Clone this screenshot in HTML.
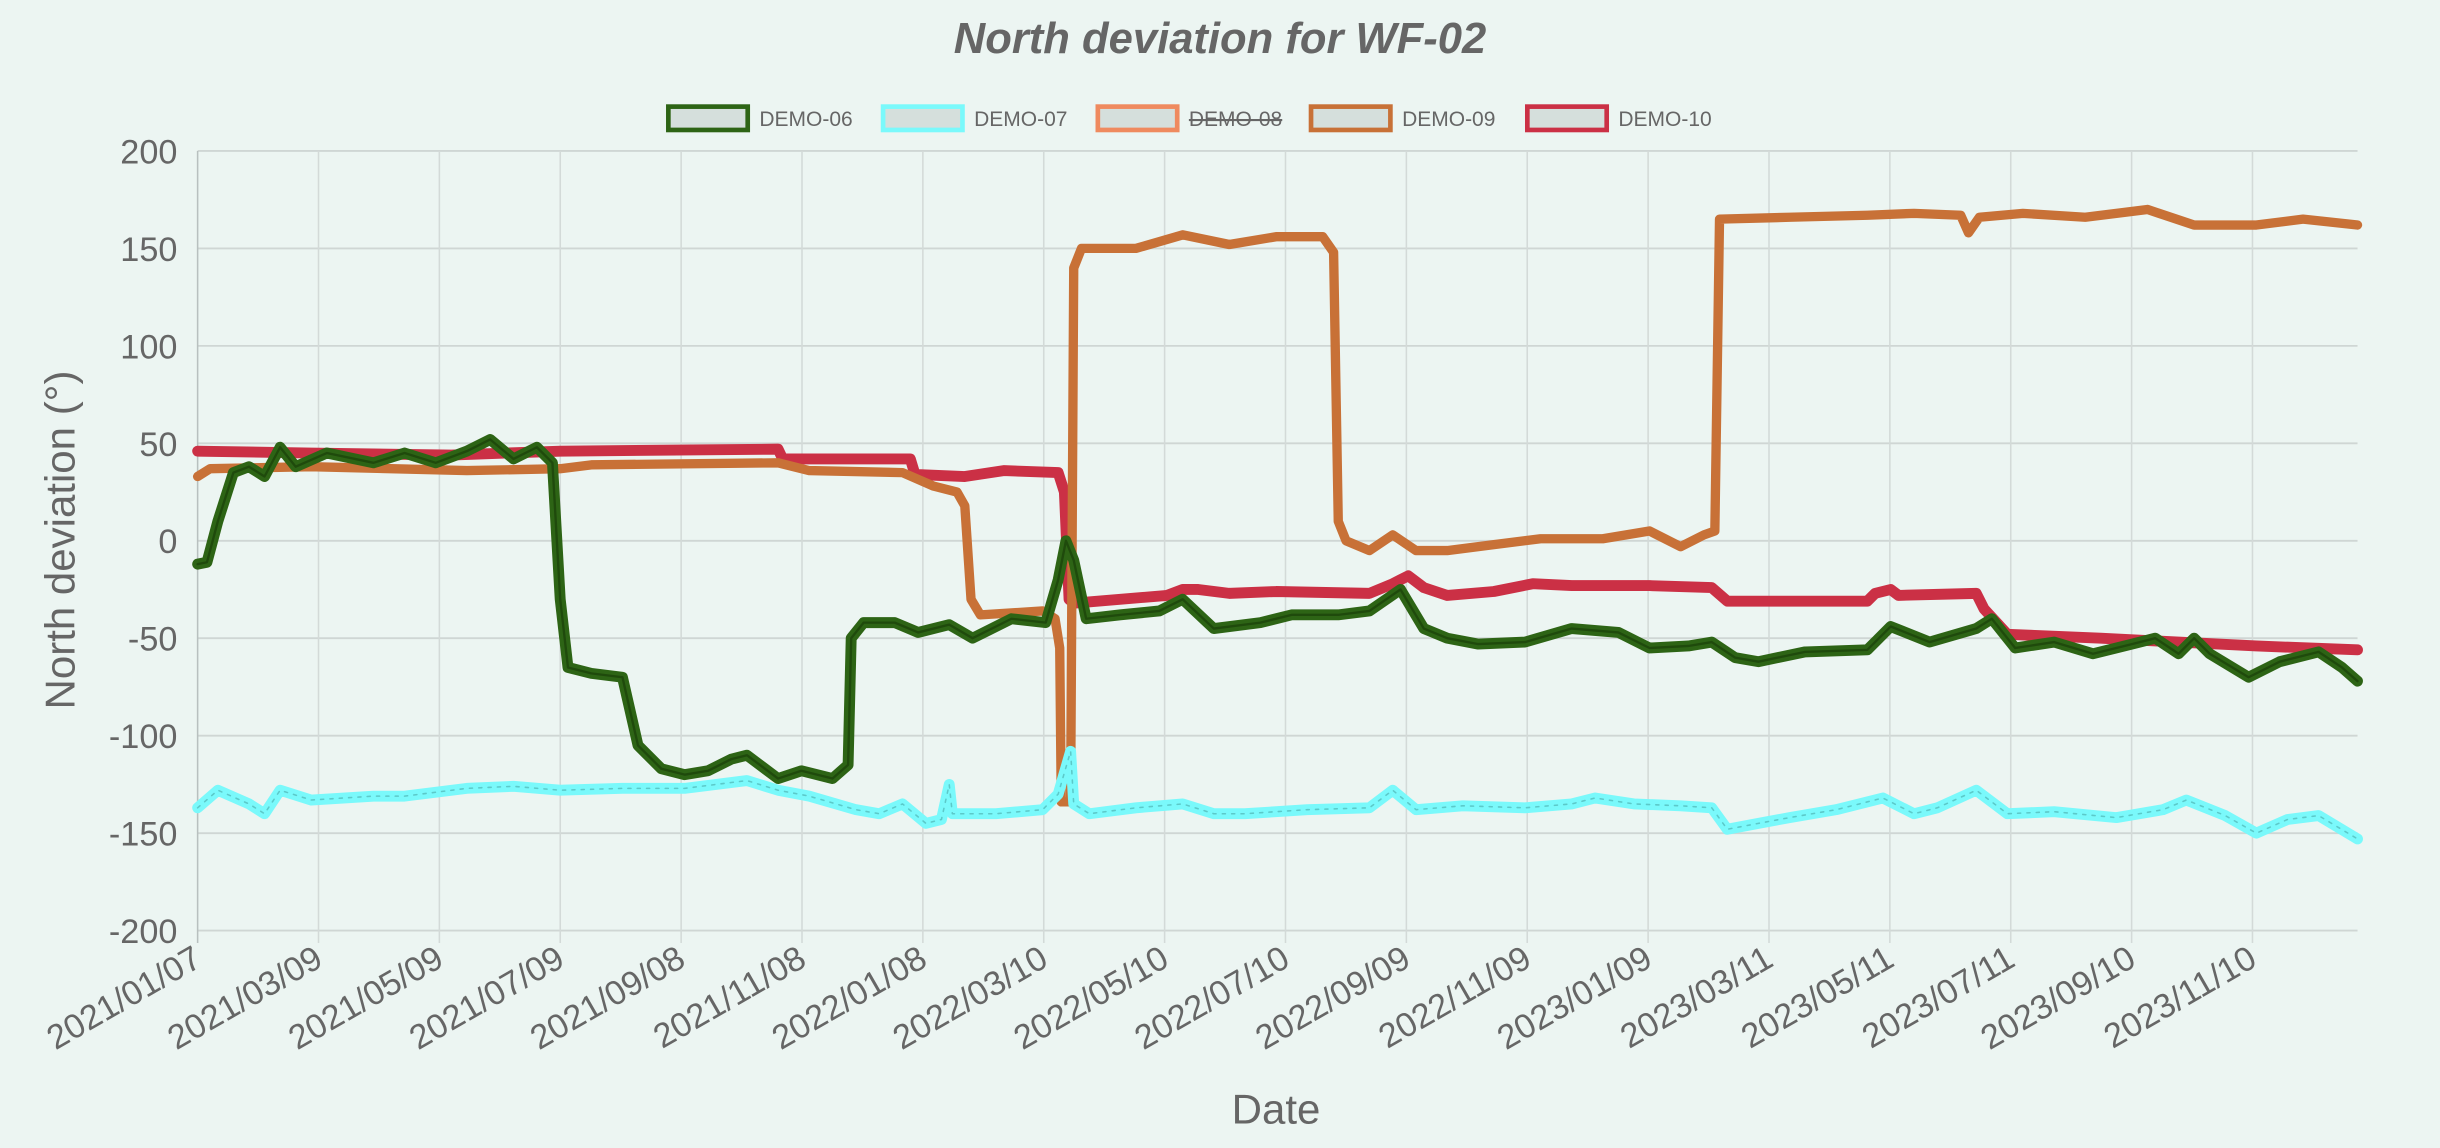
<!DOCTYPE html>
<html><head><meta charset="utf-8"><style>
html,body{margin:0;padding:0;background:#ecf5f2;}
svg{display:block;font-family:"Liberation Sans",sans-serif;}
</style></head><body>
<svg id="s" width="2440" height="1148" viewBox="0 0 1568 737.7" xmlns="http://www.w3.org/2000/svg">
<rect width="1568" height="737.7" fill="#ecf5f2"/>
<text x="784" y="34" text-anchor="middle" font-size="28" font-weight="bold" font-style="italic" fill="#666">North deviation for WF-02</text>
<g id="grid"></g>
<g id="leg" font-size="13.5" fill="#666"></g>
<g id="data" fill="none" stroke-linejoin="round" stroke-linecap="round"></g>
<text transform="translate(48,347) rotate(-90)" text-anchor="middle" font-size="27" fill="#666">North deviation (°)</text>
<text x="820" y="722" text-anchor="middle" font-size="27" fill="#666">Date</text>
</svg>
<script>
var NS="http://www.w3.org/2000/svg";
function el(p,t,a,txt){var e=document.createElementNS(NS,t);for(var k in a)e.setAttribute(k,a[k]);if(txt!==undefined)e.textContent=txt;p.appendChild(e);return e;}
var L=127,R=1515;function Y(v){return 347.5-v*1.2525;}
var g=document.getElementById('grid');
for(var v=-200;v<=200;v+=50){el(g,'line',{x1:L,x2:R,y1:Y(v),y2:Y(v),stroke:'#cfd6d4','stroke-width':1.2});
el(g,'text',{x:114,y:Y(v)+8,'text-anchor':'end','font-size':22,fill:'#666'},String(v));}
var ticks=["2021/01/07","2021/03/09","2021/05/09","2021/07/09","2021/09/08","2021/11/08","2022/01/08","2022/03/10","2022/05/10","2022/07/10","2022/09/09","2022/11/09","2023/01/09","2023/03/11","2023/05/11","2023/07/11","2023/09/10","2023/11/10"];
var sp=(1447.5-127)/17;
for(var i=0;i<ticks.length;i++){var x=127+i*sp;
el(g,'line',{x1:x,x2:x,y1:97,y2:606,stroke:i==0?'#b8c0bf':'#d3dad8','stroke-width':1});
el(g,'text',{transform:'translate('+(x+4)+',620) rotate(-30)','text-anchor':'end','font-size':22,fill:'#666'},ticks[i]);}
var lg=document.getElementById('leg');
var legs=[["DEMO-06","#2d6415",428],["DEMO-07","#7af9fb",566],["DEMO-08","#ef8a5f",704],["DEMO-09","#c87137",841],["DEMO-10","#cb3045",980]];
legs.forEach(function(d){el(lg,'rect',{x:d[2]+1.5,y:68.5,width:51,height:15,fill:'#d5dfdc',stroke:d[1],'stroke-width':3});
var t=el(lg,'text',{x:d[2]+60,y:81},d[0]);if(d[0]=="DEMO-08")t.setAttribute('text-decoration','line-through');});
var S={
red:["#cb3045",[[127,46],[200,45],[290,44],[360,46],[500,47],[503,42],[585,42],[588,34],[620,33],[645,36],[680,35],[684,25],[687,-30],[690,-32],[750,-28],[760,-25],[770,-25],[790,-27],[820,-26],[880,-27],[895,-22],[905,-18],[915,-24],[930,-28],[960,-26],[985,-22],[1010,-23],[1060,-23],[1100,-24],[1110,-31],[1200,-31],[1205,-27],[1215,-25],[1220,-28],[1270,-27],[1275,-35],[1290,-48],[1350,-50],[1400,-52],[1450,-54],[1515,-56]]],
orange:["#c87137",[[127,33],[135,37],[200,38],[300,36],[360,37],[380,39],[500,40],[520,36],[580,35],[600,28],[615,25],[620,18],[624,-30],[630,-38],[670,-36],[678,-40],[681,-55],[682,-134],[688,-134],[690,140],[695,150],[730,150],[760,157],[790,152],[820,156],[850,156],[857,148],[860,10],[865,0],[880,-5],[895,3],[910,-5],[930,-5],[960,-2],[990,1],[1030,1],[1060,5],[1080,-3],[1095,3],[1102,5],[1105,165],[1150,166],[1200,167],[1230,168],[1260,167],[1265,158],[1272,166],[1300,168],[1340,166],[1380,170],[1410,162],[1450,162],[1480,165],[1515,162]]],
cyan:["#7af9fb",[[127,-137],[140,-128],[160,-135],[170,-140],[180,-128],[200,-133],[240,-131],[260,-131],[300,-127],[330,-126],[360,-128],[400,-127],[440,-127],[480,-123],[500,-128],[520,-131],[550,-138],[565,-140],[580,-135],[595,-145],[605,-143],[610,-125],[612,-140],[640,-140],[670,-138],[680,-130],[688,-108],[690,-135],[700,-140],[730,-137],[760,-135],[780,-140],[800,-140],[840,-138],[880,-137],[895,-128],[910,-138],[940,-136],[980,-137],[1010,-135],[1025,-132],[1050,-135],[1080,-136],[1100,-137],[1110,-148],[1130,-145],[1150,-142],[1180,-138],[1210,-132],[1230,-140],[1245,-137],[1270,-128],[1290,-140],[1320,-139],[1360,-142],[1390,-138],[1405,-133],[1430,-141],[1450,-150],[1470,-143],[1490,-141],[1515,-153]]],
green:["#2d6415",[[127,-12],[133,-11],[140,10],[150,35],[160,38],[170,33],[180,48],[190,38],[210,45],[240,40],[260,45],[280,40],[300,46],[315,52],[330,42],[345,48],[355,40],[360,-30],[365,-65],[380,-68],[400,-70],[410,-105],[425,-117],[440,-120],[455,-118],[470,-112],[480,-110],[500,-122],[515,-118],[535,-122],[545,-115],[547,-50],[555,-42],[575,-42],[590,-47],[610,-43],[625,-50],[650,-40],[672,-42],[680,-20],[685,0],[690,-10],[698,-40],[720,-38],[745,-36],[760,-30],[780,-45],[810,-42],[830,-38],[860,-38],[880,-36],[900,-25],[915,-45],[930,-50],[950,-53],[980,-52],[1010,-45],[1040,-47],[1060,-55],[1085,-54],[1100,-52],[1115,-60],[1130,-62],[1160,-57],[1200,-56],[1215,-44],[1240,-52],[1270,-45],[1280,-40],[1295,-55],[1320,-52],[1345,-58],[1370,-53],[1385,-50],[1400,-58],[1410,-50],[1420,-58],[1445,-70],[1465,-62],[1490,-57],[1505,-65],[1515,-72]]]};
var dg=document.getElementById('data');
["red","orange","cyan","green"].forEach(function(k){var c=S[k][0],p=S[k][1];
var pts=p.map(function(q){return q[0]+','+Y(q[1]).toFixed(1);}).join(' ');
var w=(k=="orange")?6:7;
el(dg,'polyline',{points:pts,stroke:c,'stroke-width':w});
if(k=="green"){el(dg,'polyline',{points:pts,stroke:'#1f4a0c','stroke-width':1.5});}
if(k=="cyan"){el(dg,'polyline',{points:pts,stroke:'#5cc9c9','stroke-width':1,'stroke-dasharray':'2 4'});}
});
</script>
</body></html>
